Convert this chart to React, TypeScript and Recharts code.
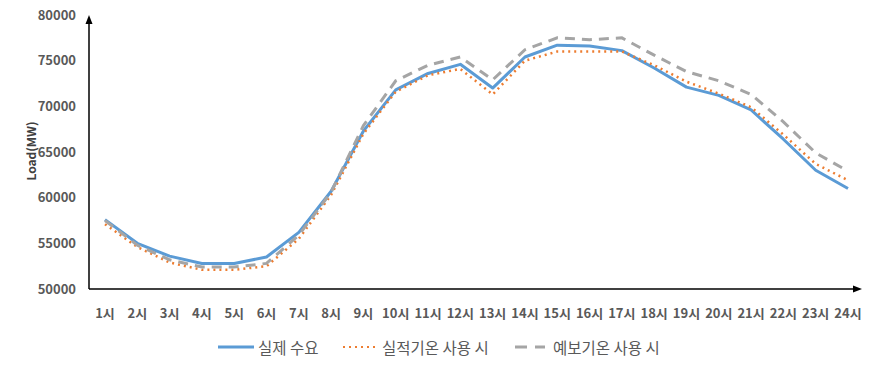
import React from 'react';
import { LineChart, Line, XAxis, YAxis, Customized } from 'recharts';

const hours = ['1시','2시','3시','4시','5시','6시','7시','8시','9시','10시','11시','12시','13시','14시','15시','16시','17시','18시','19시','20시','21시','22시','23시','24시'];
const actualDemand = [57600,55000,53600,52800,52800,53500,56200,60700,67300,71800,73600,74600,72000,75400,76700,76600,76100,74200,72100,71200,69600,66400,63000,61000];
const actualTemp = [57100,54600,52900,52100,52100,52500,55500,60300,67000,71600,73400,74100,71300,75000,76000,76000,76000,74500,72700,71400,69900,66900,63700,61900];
const forecastTemp = [57500,54800,53200,52400,52400,52800,55900,60600,67900,72800,74500,75400,72900,76200,77500,77300,77500,75600,73800,72800,71300,68300,64900,62900];
const yTicks = [50000,55000,60000,65000,70000,75000,80000];
const seriesNames = ['실제 수요','실적기온 사용 시','예보기온 사용 시'];

const data = hours.map((h, i) => ({ hour: h, a: actualDemand[i], b: actualTemp[i], c: forecastTemp[i] }));

const W = 876, H = 367;
const M = { top: 15, right: 12, left: 29, bottom: 48 };
const YW = 60, XH = 30;
const PL = M.left + YW, PT = M.top, PR = W - M.right, PB = H - M.bottom - XH;
const FONT = '"Noto Sans CJK KR", "Noto Sans", sans-serif';

const Overlay = () => (
  <g>
    <line x1={PL} y1={PB} x2={PL} y2={PT + 6} stroke="#000" strokeWidth={1.5} />
    <polygon points={`${PL},${PT} ${PL - 3.5},${PT + 9} ${PL + 3.5},${PT + 9}`} fill="#000" />
    <line x1={PL} y1={PB} x2={PR - 6} y2={PB} stroke="#000" strokeWidth={1.5} />
    <polygon points={`${PR - 2},${PB} ${PR - 11},${PB - 3.5} ${PR - 11},${PB + 3.5}`} fill="#000" />
    <text x={30} y={151} transform="rotate(-90 30 151)" textAnchor="middle" dominantBaseline="central"
      fontFamily={FONT} fontWeight={700} fontSize={12} fill="#404040">Load(MW)</text>
  </g>
);

const colors = ['#5B9BD5', '#ED7D31', '#A5A5A5'];
const legendLeft = [218, 342, 515];

const LegendIcon = ({ i }: { i: number }) => {
  if (i === 0) return <svg width={36} height={6}><line x1={0} y1={3} x2={36} y2={3} stroke={colors[0]} strokeWidth={3} /></svg>;
  if (i === 1) return <svg width={34} height={6}><line x1={1} y1={3} x2={34} y2={3} stroke={colors[1]} strokeWidth={2.2} strokeDasharray="2 4" /></svg>;
  return <svg width={30} height={6}><line x1={0} y1={3} x2={30} y2={3} stroke={colors[2]} strokeWidth={3} strokeDasharray="12 8" /></svg>;
};
const legendGap = [4, 6, 8];

export default function App() {
  return (
    <div style={{ position: 'absolute', left: 0, top: 0, width: W, height: H, background: '#fff' }}>
      <LineChart width={W} height={H} data={data} margin={M}>
        <XAxis dataKey="hour" height={XH} axisLine={false} tickLine={false} tickSize={6} tickMargin={14}
          padding={{ left: 16, right: 16 }} interval={0}
          tick={{ fontFamily: FONT, fontSize: 13, fontWeight: 700, fill: '#595959' }} />
        <YAxis width={YW} domain={[50000, 80000]} ticks={yTicks} axisLine={false} tickLine={false}
          tickSize={6} tickMargin={7} type="number" allowDataOverflow
          tick={{ fontFamily: FONT, fontSize: 13, fontWeight: 700, fill: '#595959' }} />
        <Line dataKey="a" name={seriesNames[0]} stroke={colors[0]} strokeWidth={3} dot={false} isAnimationActive={false} strokeLinejoin="round" />
        <Line dataKey="b" name={seriesNames[1]} stroke={colors[1]} strokeWidth={2.5} strokeDasharray="2 4" dot={false} isAnimationActive={false} />
        <Line dataKey="c" name={seriesNames[2]} stroke={colors[2]} strokeWidth={3} strokeDasharray="10 7" dot={false} isAnimationActive={false} />
        <Customized component={<Overlay />} />
      </LineChart>
      {seriesNames.map((n, i) => (
        <div key={n} style={{ position: 'absolute', left: legendLeft[i], top: 336, height: 22, display: 'flex', alignItems: 'center',
          fontFamily: FONT, fontSize: 15.5, color: '#595959', whiteSpace: 'nowrap' }}>
          <LegendIcon i={i} />
          <span style={{ marginLeft: legendGap[i], lineHeight: '22px' }}>{n}</span>
        </div>
      ))}
    </div>
  );
}
